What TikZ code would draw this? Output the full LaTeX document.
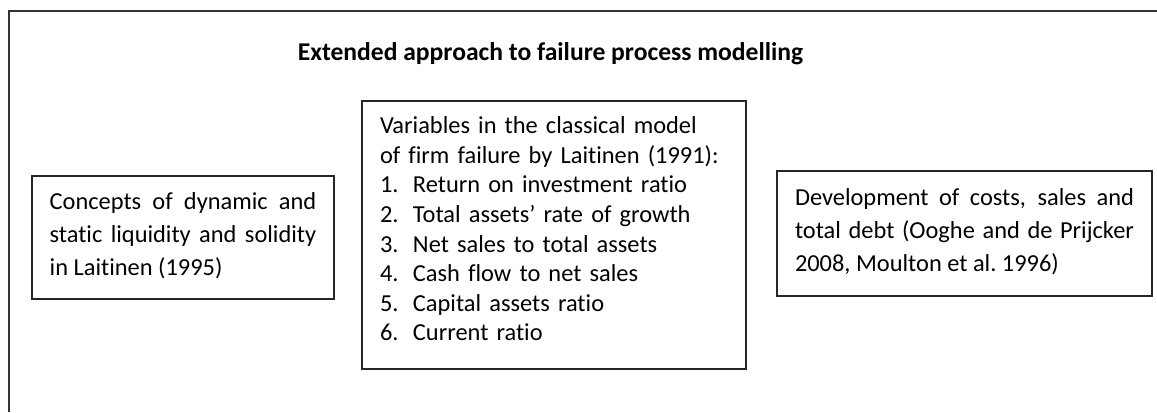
\documentclass[tikz,border=0pt]{standalone}
\usepackage{fontspec}
\setmainfont{Carlito}[Ligatures=NoCommon]
\newcommand{\numitem}[2]{\makebox[24.75pt][l]{#1.}#2}
\newcommand{\bottomgap}[1]{\par\nointerlineskip\vspace{#1}\hbox{}}

\begin{document}
\begin{tikzpicture}[x=0.75pt, y=-0.75pt,
  every node/.style={font=\fontsize{18.3}{24.75}\selectfont},
  box/.style={draw=black!85, line width=0.9pt, inner ysep=0pt}]

\useasboundingbox (0,0) rectangle (1157,412);
\draw[black!80, line width=0.9pt] (9,412) -- (9,11) -- (1157,11);

\node[anchor=base, font=\fontsize{19.2}{24.75}\selectfont\bfseries] (title) at (550.5,60) {Extended approach to failure process modelling};

\node[box, align=justify, text width=200pt, inner xsep=13.25pt, minimum height=92.25pt] (concepts) at (183,237.5)
  {Concepts of dynamic and\linebreak static liquidity and solidity\linebreak in Laitinen (1995)\bottomgap{3pt}};

\node[box, align=left, text width=261pt, inner xsep=13.5pt, minimum height=201pt, font=\fontsize{18.3}{22.2}\selectfont] (classical) at (554,235)
  {Variables in the classical model\\ of firm failure by Laitinen (1991):\\
   \numitem{1}{Return on investment ratio}\\
   \numitem{2}{Total assets’ rate of growth}\\
   \numitem{3}{Net sales to total assets}\\
   \numitem{4}{Cash flow to net sales}\\
   \numitem{5}{Capital assets ratio}\\
   \numitem{6}{Current ratio}\bottomgap{9pt}};

\node[box, align=justify, text width=254.25pt, inner xsep=13.5pt, minimum height=93.75pt] (development) at (964.5,233.5)
  {Development of costs, sales and\linebreak total debt (Ooghe and de Prijcker\linebreak 2008, Moulton et al.\ 1996)\bottomgap{3pt}};

\end{tikzpicture}
\end{document}
